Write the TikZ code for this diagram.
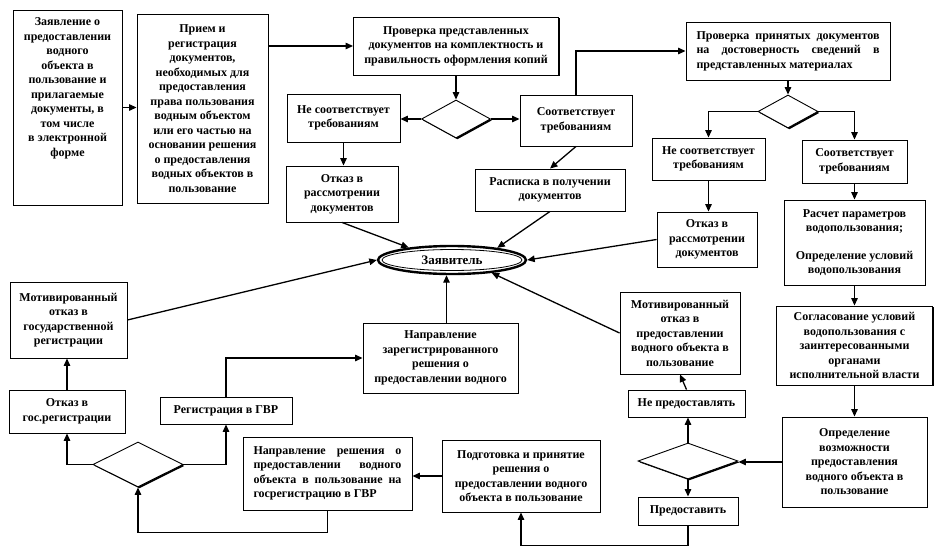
\documentclass[tikz,border=0pt]{standalone}
\usepackage{fontspec}
\setmainfont{Liberation Serif}
\usetikzlibrary{arrows.meta,shapes.geometric,shadows}
\tikzset{
  flowbox/.style={draw, fill=white, line width=.9pt, align=center,
    inner xsep=3pt, inner ysep=2pt, font=\fontsize{12}{14.5}\selectfont\bfseries,
    drop shadow={shadow xshift=1.4pt, shadow yshift=-1.4pt, opacity=1, fill=black}},
  justbox/.style={flowbox, align=justify},
  choice/.style={diamond, draw, fill=white, line width=.9pt, inner sep=0pt,
    drop shadow={shadow xshift=1.4pt, shadow yshift=-1.4pt, opacity=1, fill=black}},
  flowarrow/.style={-{Triangle[length=7.5pt,width=6.5pt]}, line width=1.3pt}
}

\begin{document}
\begin{tikzpicture}[x=1pt,y=-1pt]
  % Granting a water body: boxes sit at scan coordinates, y runs downwards.
  \useasboundingbox (0,0) rectangle (946,557);

  \node[flowbox, minimum width=109, minimum height=195, text depth=41pt] (zayav) at (67.5,107.5)
    {Заявление о\\предоставлении\\водного\\объекта в\\пользование и\\прилагаемые\\документы, в\\том числе\\в электронной\\форме};
  \node[flowbox, minimum width=131, minimum height=189] (priem) at (202.5,108.5)
    {Прием и\\регистрация\\документов,\\необходимых для\\предоставления\\права пользования\\водным объектом\\или его частью на\\основании решения\\о предоставления\\водных объектов в\\пользование};
  \node[flowbox, minimum width=205, minimum height=58] (checka) at (456,46)
    {Проверка представленных\\документов на комплектность и\\правильность оформления копий};
  \node[choice, minimum width=69, minimum height=38] (choicea) at (456,119) {};
  \node[flowbox, minimum width=113, minimum height=48] (nofita) at (343.5,118)
    {Не соответствует\\требованиям};
  \node[flowbox, minimum width=112, minimum height=51] (fita) at (576,120.5)
    {Соответствует\\требованиям};
  \node[flowbox, minimum width=112, minimum height=56] (refusea) at (342,194)
    {Отказ в\\рассмотрении\\документов};
  \node[flowbox, minimum width=150, minimum height=42] (receipt) at (550,190)
    {Расписка в получении\\документов};

  \node[justbox, minimum height=58, text width=183pt, inner xsep=10.5pt] (checkb) at (788,51)
    {Проверка принятых документов\linebreak на достоверность сведений в\linebreak представленных материалах};
  \node[choice, minimum width=60, minimum height=33] (choiceb) at (788,111.5) {};
  \node[flowbox, minimum width=113, minimum height=42] (nofitb) at (708.5,159)
    {Не соответствует\\требованиям};
  \node[flowbox, minimum width=105, minimum height=43] (fitb) at (854.5,161.5)
    {Соответствует\\требованиям};
  \node[flowbox, minimum width=100, minimum height=55] (refuseb) at (707,239.5)
    {Отказ в\\рассмотрении\\документов};
  \node[flowbox, minimum width=141, minimum height=85] (calc) at (854.5,242.5)
    {Расчет параметров\\водопользования;\\[13pt]Определение условий\\водопользования};
  \node[flowbox, minimum width=156, minimum height=79] (agree) at (854.5,345.5)
    {Согласование условий\\водопользования с\\заинтересованными\\органами\\исполнительной власти};
  \node[flowbox, minimum width=145, minimum height=90] (possible) at (854.5,462)
    {Определение\\возможности\\предоставления\\водного объекта в\\пользование};

  \node[ellipse, draw, line width=2.4pt, minimum width=148, minimum height=28,
    font=\fontsize{13}{15}\selectfont\bfseries] (applicant) at (452,260) {Заявитель};
  \draw[line width=.8pt] (applicant.center) ellipse [x radius=70, y radius=10.5];

  \node[flowbox, minimum width=117, minimum height=76] (motivea) at (68.5,320)
    {Мотивированный\\отказ в\\государственной\\регистрации};
  \node[flowbox, minimum width=116, minimum height=43] (refused) at (67,411.5)
    {Отказ в\\гос.регистрации};
  \node[flowbox, minimum width=132, minimum height=27] (gvr) at (226,410.5)
    {Регистрация в ГВР};
  \node[flowbox, minimum width=155, minimum height=70] (sendback) at (440.5,358)
    {Направление\\зарегистрированного\\решения о\\предоставлении водного};
  \node[choice, minimum width=90, minimum height=45] (choicec) at (138,464.5) {};
  \node[justbox, minimum height=73, text width=148pt, inner xsep=10.5pt] (sendreg) at (327.5,473.5)
    {Направление решения о\linebreak предоставлении водного\linebreak объекта в пользование на\linebreak госрегистрацию в ГВР};
  \node[flowbox, minimum width=158, minimum height=72] (decide) at (521,476)
    {Подготовка и принятие\\решения о\\предоставлении водного\\объекта в пользование};
  \node[flowbox, minimum width=120, minimum height=82] (refusec) at (680,333)
    {Мотивированный\\отказ в\\предоставлении\\водного объекта в\\пользование};
  \node[flowbox, minimum width=117, minimum height=27] (notgrant) at (686.5,403.5)
    {Не предоставлять};
  \node[choice, minimum width=100, minimum height=36] (choiced) at (688,461) {};
  \node[flowbox, minimum width=100, minimum height=28] (grant) at (688,511)
    {Предоставить};

  \draw[flowarrow] (zayav.east) -- (zayav.east -| priem.west);
  \draw[flowarrow] (priem.east |- checka.west) -- (checka.west);
  \draw[flowarrow] (checka.south) -- (choicea.north);
  \draw[flowarrow] (choicea.west) -- (choicea.west -| nofita.east);
  \draw[flowarrow] (choicea.east) -- (choicea.east -| fita.west);
  \draw[flowarrow] (nofita.south) -- (nofita.south |- refusea.north);
  \draw[flowarrow] (fita.south) -- (receipt.north);
  \draw[flowarrow] (fita.north) |- (checkb.west);
  \draw[flowarrow] (checkb.south) -- (choiceb.north);
  \draw[flowarrow] (choiceb.west) -| (nofitb.north);
  \draw[flowarrow] (choiceb.east) -| (fitb.north);
  \draw[flowarrow] (nofitb.south) -- (nofitb.south |- refuseb.north);
  \draw[flowarrow] (fitb.south) -- (fitb.south |- calc.north);
  \draw[flowarrow] (calc.south) -- (calc.south |- agree.north);
  \draw[flowarrow] (agree.south) -- (agree.south |- possible.north);
  \draw[flowarrow] (possible.west) -- (possible.west -| choiced.east);
  \draw[flowarrow] (choiced.north) -- (choiced.north |- notgrant.south);
  \draw[flowarrow] (notgrant.north) -- (refusec.south);
  \draw[flowarrow] (choiced.south) -- (choiced.south |- grant.north);
  \draw[flowarrow] (grant.south) -- ++(0,20) -| (decide.south);
  \draw[flowarrow] (decide.west) -- (decide.west -| sendreg.east);
  \draw[flowarrow] (sendreg.south) -- ++(0,22) -| (choicec.south);
  \draw[flowarrow] (choicec.west) -| (refused.south);
  \draw[flowarrow] (choicec.east) -| (gvr.south);
  \draw[flowarrow] (refused.north) -- (refused.north |- motivea.south);
  \draw[flowarrow] (gvr.north) |- (sendback.west);

  \draw[flowarrow] (refusea.south) -- (applicant.164);
  \draw[flowarrow] (receipt.south) -- (applicant.15);
  \draw[flowarrow] (refuseb.west) -- (applicant.east);
  \draw[flowarrow] (motivea.east) -- (applicant.west);
  \draw[flowarrow] ([xshift=6pt]sendback.north) -- ([xshift=6pt]sendback.north |- applicant.south);
  \draw[flowarrow] (refusec.west) -- (applicant.-18);
\end{tikzpicture}
\end{document}
